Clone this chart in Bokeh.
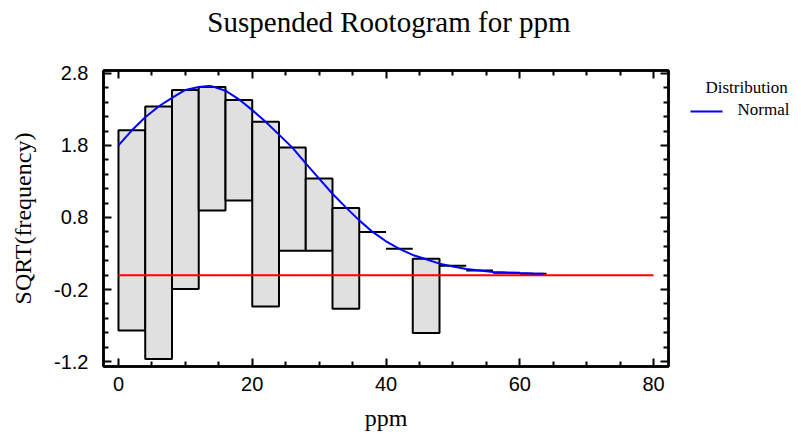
from bokeh.plotting import figure
from bokeh.models import (Range1d, FixedTicker, LinearAxis, ColumnDataSource)
from bokeh.layouts import column, row
from bokeh.core.properties import value
from bokeh.embed import file_html
from bokeh.resources import INLINE

# ---- data ----
bin_left = [0, 4, 8, 12, 16, 20, 24, 28, 32, 36, 40, 44, 48, 52, 56, 60]
bin_right = [4, 8, 12, 16, 20, 24, 28, 32, 36, 40, 44, 48, 52, 56, 60, 64]
sqrt_expected = [2.01, 2.34, 2.57, 2.61, 2.43, 2.13, 1.77, 1.34, 0.93,
                 0.60, 0.365, 0.226, 0.129, 0.064, 0.033, 0.02]
hang_bottom = [-0.77, -1.165, -0.194, 0.896, 1.035, -0.436, 0.337, 0.337,
               -0.467, 0.60, 0.365, -0.804, 0.129, 0.064, 0.033, 0.02]

curve_x = [0, 2, 4, 6, 8, 10, 12, 13.5, 14, 16, 18, 20, 22, 24, 26, 28, 30,
           32, 34, 36, 38, 40, 42, 44, 46, 48, 50, 52, 54, 56, 58, 60, 62, 63.5]
curve_y = [1.80, 2.01, 2.19, 2.34, 2.46, 2.57, 2.61, 2.625, 2.62, 2.56, 2.44,
           2.29, 2.13, 1.95, 1.77, 1.55, 1.34, 1.13, 0.94, 0.76, 0.60, 0.47,
           0.365, 0.28, 0.22, 0.16, 0.12, 0.085, 0.065, 0.045, 0.035, 0.028,
           0.022, 0.02]

zero_x = [0, 80]
zero_y = [0, 0]

x_ticks = [0, 20, 40, 60, 80]
x_minor = [5, 10, 15, 25, 30, 35, 45, 50, 55, 65, 70, 75]
y_ticks = [-1.2, -0.2, 0.8, 1.8, 2.8]
y_tick_labels = ["-1.2", "-0.2", "0.8", "1.8", "2.8"]
y_minor = [-1.0, -0.8, -0.6, -0.4, 0.0, 0.2, 0.4, 0.6, 1.0, 1.2, 1.4, 1.6,
           2.0, 2.2, 2.4, 2.6]

title_text = "Suspended Rootogram for ppm"
legend_title = "Distribution"
legend_label = "Normal"

SERIF = "Liberation Serif"
SANS = "Liberation Sans"

TITLE_H = 40
MAIN_W = 678
MAIN_H = 398
LEG_W = 117

# ---------------- main plot ----------------
p = figure(width=MAIN_W, height=MAIN_H, title=None,
           x_range=Range1d(-2.24, 82.24), y_range=Range1d(-1.268, 2.840),
           output_backend="svg", toolbar_location=None,
           x_axis_location=None, y_axis_location=None,
           min_border_left=103, min_border_right=10,
           min_border_top=30, min_border_bottom=72)
p.grid.visible = False
p.outline_line_color = "black"
p.outline_line_width = 2.5
p.outline_line_alpha = 1.0
p.background_fill_color = "white"
p.border_fill_color = "white"

bars = ColumnDataSource(dict(left=bin_left, right=bin_right,
                             top=sqrt_expected, bottom=hang_bottom))
p.quad(left="left", right="right", top="top", bottom="bottom", source=bars,
       fill_color="#e0e0e0", line_color="black", line_width=2)

p.line(zero_x, zero_y, line_color="#ff0000", line_width=2)
p.line(curve_x, curve_y, line_color="#0000ff", line_width=2)


def make_axis(ticks, minor, labels=True):
    ax = LinearAxis(ticker=FixedTicker(ticks=ticks, minor_ticks=minor))
    ax.axis_line_color = "black"
    ax.axis_line_width = 2.5
    ax.major_tick_in = 8
    ax.major_tick_out = 0
    ax.minor_tick_in = 5
    ax.minor_tick_out = 0
    ax.major_tick_line_width = 2
    ax.minor_tick_line_width = 2
    ax.major_tick_line_color = "black"
    ax.minor_tick_line_color = "black"
    if labels:
        ax.major_label_text_font = SANS
        ax.major_label_text_font_size = "20px"
        ax.major_label_text_color = "black"
        ax.axis_label_text_font = SERIF
        ax.axis_label_text_font_size = "24px"
        ax.axis_label_text_font_style = "normal"
        ax.axis_label_text_color = "black"
    else:
        ax.major_label_text_font_size = "0px"
        ax.major_label_text_alpha = 0
        ax.major_label_standoff = 0
    return ax


bx = make_axis(x_ticks, x_minor)
bx.major_label_standoff = 10
bx.axis_label = "ppm"
bx.axis_label_standoff = 11
p.add_layout(bx, "below")

ly = make_axis(y_ticks, y_minor)
ly.major_label_standoff = 15
ly.major_label_overrides = {t: s for t, s in zip(y_ticks, y_tick_labels)}
ly.axis_label = "SQRT(frequency)"
ly.axis_label_standoff = 15
p.add_layout(ly, "left")

p.add_layout(make_axis(x_ticks, x_minor, labels=False), "above")
p.add_layout(make_axis(y_ticks, y_minor, labels=False), "right")

# ---------------- title strip (page-pixel coordinates) ----------------
t = figure(width=MAIN_W + LEG_W, height=TITLE_H, title=None,
           x_range=Range1d(0, MAIN_W + LEG_W), y_range=Range1d(TITLE_H, 0),
           output_backend="svg", toolbar_location=None,
           x_axis_location=None, y_axis_location=None,
           min_border_left=0, min_border_right=0,
           min_border_top=0, min_border_bottom=0, outline_line_color=None)
t.grid.visible = False
t.text(x=[388.5], y=[21], text=[title_text], text_font=value(SERIF),
       text_font_size="29px", text_align="center",
       text_baseline="alphabetic", text_color="black")

# ---------------- legend strip (page-pixel coordinates) ----------------
lg = figure(width=LEG_W, height=MAIN_H, title=None,
            x_range=Range1d(MAIN_W, MAIN_W + LEG_W),
            y_range=Range1d(TITLE_H + MAIN_H, TITLE_H),
            output_backend="svg", toolbar_location=None,
            x_axis_location=None, y_axis_location=None,
            min_border_left=0, min_border_right=0,
            min_border_top=0, min_border_bottom=0, outline_line_color=None)
lg.grid.visible = False
lg.text(x=[705], y=[63], text=[legend_title], text_font=value(SERIF),
        text_font_size="17px", text_align="left",
        text_baseline="alphabetic", text_color="black")
lg.line(x=[690, 722], y=[95, 95], line_color="#0000ff", line_width=2)
lg.text(x=[737], y=[92], text=[legend_label], text_font=value(SERIF),
        text_font_size="17px", text_align="left",
        text_baseline="alphabetic", text_color="black")

layout = column(t, row(p, lg, spacing=0), spacing=0)

open("out.html", "w").write(file_html(layout, INLINE))
